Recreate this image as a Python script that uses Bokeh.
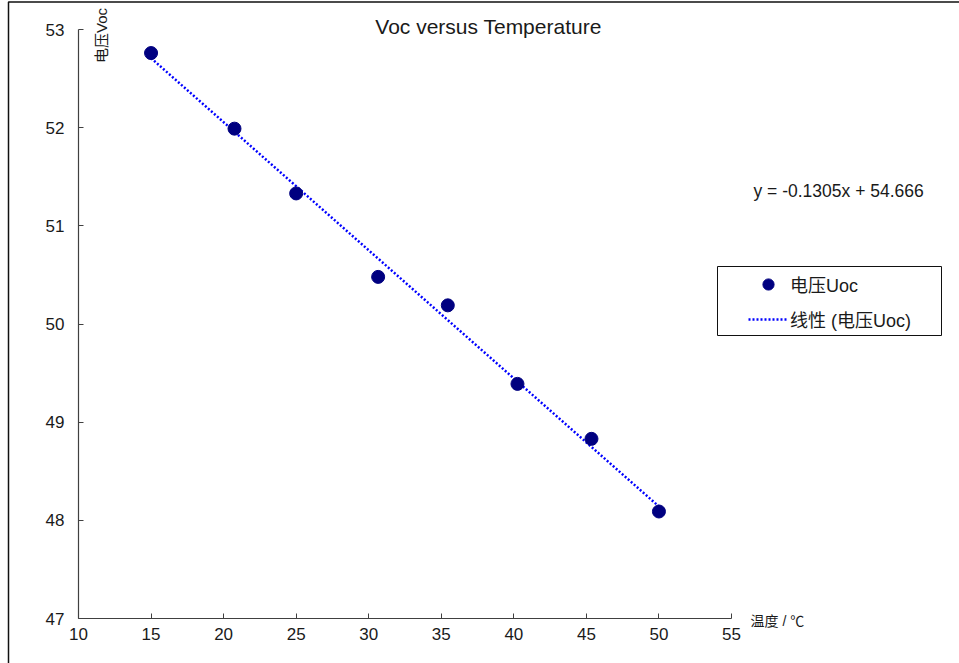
import numpy as np
from bokeh.plotting import figure
from bokeh.models import Range1d, Label, Legend, LegendItem, BoxAnnotation, FixedTicker
from bokeh.embed import file_html
from bokeh.resources import INLINE

# ---- data ----
temperature = [15.0, 20.75, 25.0, 30.65, 35.45, 40.25, 45.35, 50.0]
voc = [52.76, 51.99, 51.33, 50.48, 50.19, 49.39, 48.83, 48.09]
trend_slope = -0.1305
trend_intercept = 54.666
x_ticks = [10, 15, 20, 25, 30, 35, 40, 45, 50, 55]
y_ticks = [47, 48, 49, 50, 51, 52, 53]
title_text = "Voc versus Temperature"
x_label = "温度 / ℃"
y_label = "电压Voc"
series_name = "电压Uoc"
trend_name = "线性 (电压Uoc)"
equation_text = "y = -0.1305x + 54.666"

# ---- layout: plot area spans pixels FL..FR, FT..FB of the canvas ----
W, H = 959, 663
FL, FR, FT, FB = 78, 731, 29, 618
XMIN, XMAX, YMIN, YMAX = 10, 55, 47, 53
KX = (XMAX - XMIN) / (FR - FL)
KY = (YMAX - YMIN) / (FB - FT)


def px2x(px):
    return XMIN + (px - FL) * KX


def py2y(py):
    return YMIN + (FB - py) * KY


LATIN = "Liberation Sans, Noto Sans CJK SC"
TXT = "#1a1a1a"

p = figure(width=W, height=H,
           x_range=Range1d(px2x(0), px2x(W)), y_range=Range1d(py2y(H), py2y(0)),
           output_backend="svg", toolbar_location=None, title=None,
           min_border=0, min_border_left=0, min_border_right=0,
           min_border_top=0, min_border_bottom=0)
p.grid.visible = False
p.outline_line_color = None
p.background_fill_color = "white"
p.border_fill_color = "white"

xa, ya = p.xaxis[0], p.yaxis[0]
xa.fixed_location = YMIN
ya.fixed_location = XMIN
xa.bounds = (XMIN, XMAX)
ya.bounds = (YMIN, YMAX)
for ax in (xa, ya):
    ax.axis_line_color = "#404040"
    ax.axis_line_width = 1.2
    ax.major_tick_line_color = "#404040"
    ax.major_tick_in = 5
    ax.major_tick_out = 0
    ax.minor_tick_in = 0
    ax.minor_tick_out = 0
    ax.major_label_text_font = LATIN
    ax.major_label_text_font_size = "17px"
    ax.major_label_text_color = TXT
xa.ticker = FixedTicker(ticks=x_ticks)
ya.ticker = FixedTicker(ticks=y_ticks)
xa.major_label_standoff = 9
ya.major_label_standoff = 14

# trend line from the stated fit
tx = np.array([min(temperature), max(temperature)])
ty = trend_slope * tx + trend_intercept
r_line = p.line(tx, ty, line_color="#0000FF", line_width=2.5, line_dash="2 2")
r_pts = p.scatter(temperature, voc, size=13, fill_color="#000080", line_color="#000080")

# chart-area border (left and top visible)
p.add_layout(BoxAnnotation(left=px2x(8), right=px2x(1200), top=py2y(1.5), bottom=py2y(900),
                           fill_alpha=0, line_color="#111111", line_alpha=1.0,
                           line_width=1.5))

# legend
legend = Legend(items=[LegendItem(label=series_name, renderers=[r_pts]),
                       LegendItem(label=trend_name, renderers=[r_line])],
                location=(741, H - 340), margin=0, padding=7, spacing=7,
                glyph_width=40, glyph_height=28, label_height=28, label_standoff=2,
                label_text_font=LATIN, label_text_font_size="18px",
                label_text_color=TXT, border_line_alpha=0,
                background_fill_alpha=0)
p.add_layout(legend)
p.add_layout(BoxAnnotation(left=px2x(717), right=px2x(941), top=py2y(266), bottom=py2y(335),
                           fill_alpha=0, line_color="#111111", line_alpha=1.0,
                           line_width=1))

# texts
p.add_layout(Label(x=px2x(488), y=py2y(26), text=title_text, text_align="center",
                   text_baseline="middle", text_font=LATIN, text_font_size="21px",
                   text_color=TXT))
p.add_layout(Label(x=px2x(753), y=py2y(190), text=equation_text, text_align="left",
                   text_baseline="middle", text_font=LATIN, text_font_size="17.5px",
                   text_color=TXT))
p.add_layout(Label(x=px2x(101), y=py2y(35), text=y_label, angle=np.pi / 2,
                   text_align="center", text_baseline="middle", text_font=LATIN,
                   text_font_size="15px", text_color=TXT))
p.add_layout(Label(x=px2x(750), y=py2y(620), text=x_label, text_align="left",
                   text_baseline="middle", text_font=LATIN, text_font_size="14px",
                   text_color=TXT))

open("out.html", "w").write(file_html(p, INLINE))
